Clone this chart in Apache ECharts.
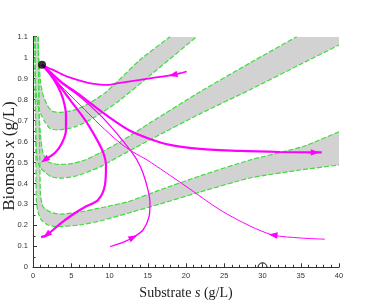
<!DOCTYPE html>
<html><head><meta charset="utf-8">
<script src="https://cdn.jsdelivr.net/npm/echarts@6/dist/echarts.min.js"></script>
<style>html,body{margin:0;padding:0;background:#fff}#c{width:366px;height:306px}</style>
</head><body><div id="c"></div>
<script>
// ---- band edges [s, x] ----
const bandALower = [[0.26,1.1],[0.30,0.942],[0.39,0.837],[0.65,0.770],[1.08,0.727],[1.53,0.695],[2.18,0.663],[3.27,0.655],[5.49,0.670],[8.10,0.717],[11.11,0.790],[15.29,0.915],[21.40,1.1]];
const bandAUpper = [[0.69,1.1],[0.75,0.990],[1.01,0.878],[1.31,0.822],[1.96,0.767],[2.61,0.743],[3.53,0.739],[5.49,0.751],[7.45,0.784],[9.41,0.832],[11.11,0.889],[13.99,0.990],[17.91,1.1]];
const bandBLower = [[0.26,1.1],[0.31,0.799],[0.38,0.608],[0.52,0.522],[0.85,0.479],[1.53,0.455],[2.39,0.432],[3.66,0.425],[5.88,0.438],[8.76,0.479],[11.37,0.531],[15.29,0.608],[21.83,0.732],[28.37,0.847],[34.90,0.967],[40,1.06]];
const bandBUpper = [[0.69,1.1],[0.75,0.894],[0.81,0.727],[0.98,0.632],[1.31,0.544],[1.96,0.504],[3.27,0.491],[4.84,0.493],[6.80,0.512],[8.76,0.546],[11.37,0.598],[15.29,0.689],[21.83,0.837],[28.37,0.975],[34.47,1.1]];
const bandCLower = [[0.26,1.1],[0.31,0.799],[0.37,0.560],[0.43,0.321],[0.65,0.264],[1.08,0.226],[1.96,0.202],[3.27,0.194],[6.14,0.202],[8.76,0.221],[12.42,0.258],[16.60,0.302],[21.83,0.359],[28.37,0.426],[34.90,0.464],[40,0.488]];
const bandCUpper = [[0.69,1.1],[0.75,0.894],[0.81,0.703],[0.89,0.512],[0.98,0.345],[1.31,0.289],[2.39,0.261],[3.70,0.254],[6.14,0.264],[8.76,0.283],[12.42,0.313],[16.60,0.369],[21.83,0.436],[28.37,0.512],[35.29,0.576],[40,0.647]];

// ---- trajectories [s, x] ----
const traj1 = [[20.09,0.934],[18.30,0.918],[16.08,0.906],[13.99,0.894],[11.37,0.880],[9.80,0.870],[8.50,0.873],[7.19,0.880],[4.58,0.908],[2.88,0.937],[1.96,0.952],[1.18,0.966]];
const traj2 = [[1.18,0.966],[2.22,0.932],[3.66,0.885],[5.88,0.828],[8.10,0.766],[10.07,0.713],[12.68,0.651],[15.29,0.612],[17.91,0.584],[21.83,0.565],[27.06,0.555],[32.29,0.550],[37.74,0.548]];
const traj3 = [[1.18,0.966],[3.53,0.870],[6.14,0.775],[8.76,0.679],[11.37,0.593],[13.07,0.550],[14.90,0.512],[17.25,0.455],[20.13,0.383],[24.44,0.274],[28.37,0.197],[31.37,0.154],[34.90,0.140],[38.17,0.134]];
const traj4 = [[10.07,0.098],[11.90,0.121],[13.11,0.143],[14.38,0.178],[15.16,0.240],[15.29,0.307],[15.03,0.369],[14.38,0.450],[13.59,0.512],[12.68,0.560],[11.11,0.632],[8.76,0.727],[6.14,0.814],[3.53,0.885],[1.18,0.966]];
const traj5 = [[1.18,0.966],[2.88,0.894],[4.84,0.799],[6.80,0.703],[8.37,0.608],[9.15,0.550],[9.54,0.488],[9.41,0.393],[8.50,0.321],[6.80,0.288],[5.49,0.259],[3.66,0.211],[1.79,0.154],[1.05,0.144]];
const traj6 = [[1.18,0.966],[2.22,0.923],[3.27,0.861],[3.92,0.804],[4.31,0.727],[4.31,0.655],[3.79,0.593],[2.88,0.546],[1.53,0.512]];

// ---- arrows: [s, x, fromS, fromX] ----
const arrows = [[18.30,0.918,20.09,0.934],[36.9,0.548,32.29,0.550],[31.37,0.154,34.90,0.140],[13.11,0.143,11.90,0.121],[1.79,0.154,3.66,0.211],[1.53,0.512,2.88,0.546]];

const equilibrium = [[1.18,0.966]];
const washout = [[30,0]];

const xTicks = [0,5,10,15,20,25,30,35,40];

const chart = echarts.init(document.getElementById('c'), null, {renderer:'canvas'});
const bands = [[bandAUpper,bandALower],[bandBUpper,bandBLower],[bandCUpper,bandCLower]];
const green = '#3ede3e', mag = '#ff00ff';

const series = [];
series.push({
  type:'custom', silent:true, clip:true, z:1,
  data: bands.map((b,i)=>[i]),
  renderItem(params, api){
    const b = bands[params.dataIndex];
    const poly = b[0].concat([[40,1.1]]).concat(b[1].slice().reverse()).map(p=>api.coord(p));
    return {type:'polygon', shape:{points:poly}, style:{fill:'#d2d2d2', stroke:null}};
  }
});
bands.forEach(b=>b.forEach(edge=>series.push({
  type:'line', data:edge, showSymbol:false, silent:true, z:2, smooth:0.2,
  lineStyle:{color:green, width:1.2, type:[5,2]}
})));
[[traj1,1.8],[traj2,2.2],[traj3,1],[traj4,1.3],[traj5,2.2],[traj6,2.2]].forEach(([t,w])=>series.push({
  type:'line', data:t, showSymbol:false, silent:true, z:3, smooth:0.3,
  lineStyle:{color:mag, width:w}
}));
series.push({
  type:'custom', silent:true, z:4, data:arrows,
  renderItem(params, api){
    const p = api.coord([api.value(0), api.value(1)]);
    const q = api.coord([api.value(2), api.value(3)]);
    let dx=p[0]-q[0], dy=p[1]-q[1]; const L=Math.hypot(dx,dy)||1; dx/=L; dy/=L;
    const len=9, w=3.2;
    const tip=[p[0]+dx*len/2, p[1]+dy*len/2];
    const b=[p[0]-dx*len/2, p[1]-dy*len/2];
    return {type:'polygon', shape:{points:[tip,[b[0]-dy*w,b[1]+dx*w],[b[0]+dy*w,b[1]-dx*w]]}, style:{fill:mag}};
  }
});
series.push({type:'scatter', data:equilibrium, symbolSize:8, itemStyle:{color:'#000'}, z:5, silent:true});
series.push({
  type:'custom', silent:true, z:5, data:washout, clip:false,
  renderItem(params, api){
    const p = api.coord([api.value(0), api.value(1)]);
    return {type:'arc', shape:{cx:p[0], cy:p[1], r:4.5, startAngle:Math.PI, endAngle:2*Math.PI}, style:{stroke:'#000', fill:null, lineWidth:1}};
  }
});

const axisCommon = {
  axisLine:{show:true, onZero:false, lineStyle:{color:'#333', width:1}},
  axisTick:{show:true, inside:true, length:4, lineStyle:{color:'#333'}},
  splitLine:{show:false},
  nameMoveOverlap:false
};
const rich = (fs)=>({a:{fontFamily:'Liberation Serif', fontSize:fs, color:'#222'}, i:{fontFamily:'Liberation Serif', fontStyle:'italic', fontSize:fs, color:'#222'}});
chart.setOption({
  animation:false,
  grid:{left:33, right:27, top:36.7, bottom:38.7, containLabel:false, outerBoundsMode:'none'},
  xAxis:Object.assign({type:'value', min:xTicks[0], max:xTicks[xTicks.length-1], interval:xTicks[1]-xTicks[0],
    name:'{a|Substrate }{i|s}{a| (g/L)}', nameLocation:'middle', nameGap:19,
    nameTextStyle:{rich:rich(14)},
    minorTick:{show:true, splitNumber:5, length:2.5, lineStyle:{color:'#333'}},
    axisLabel:{fontSize:7.5, color:'#333', fontFamily:'Liberation Sans', margin:5}
  }, axisCommon),
  yAxis:Object.assign({type:'value', min:0, max:1.1, interval:0.1,
    name:'{a|Biomass }{i|x}{a| (g/L)}', nameLocation:'middle', nameGap:15, nameRotate:90,
    nameTextStyle:{rich:rich(17), padding:[0,8,0,0]},
    minorTick:{show:true, splitNumber:2, length:2.5, lineStyle:{color:'#333'}},
    axisLabel:{fontSize:7.5, color:'#333', fontFamily:'Liberation Sans', margin:5, formatter:v=>String(Math.round(v*10)/10)}
  }, axisCommon),
  series
});
</script></body></html>
